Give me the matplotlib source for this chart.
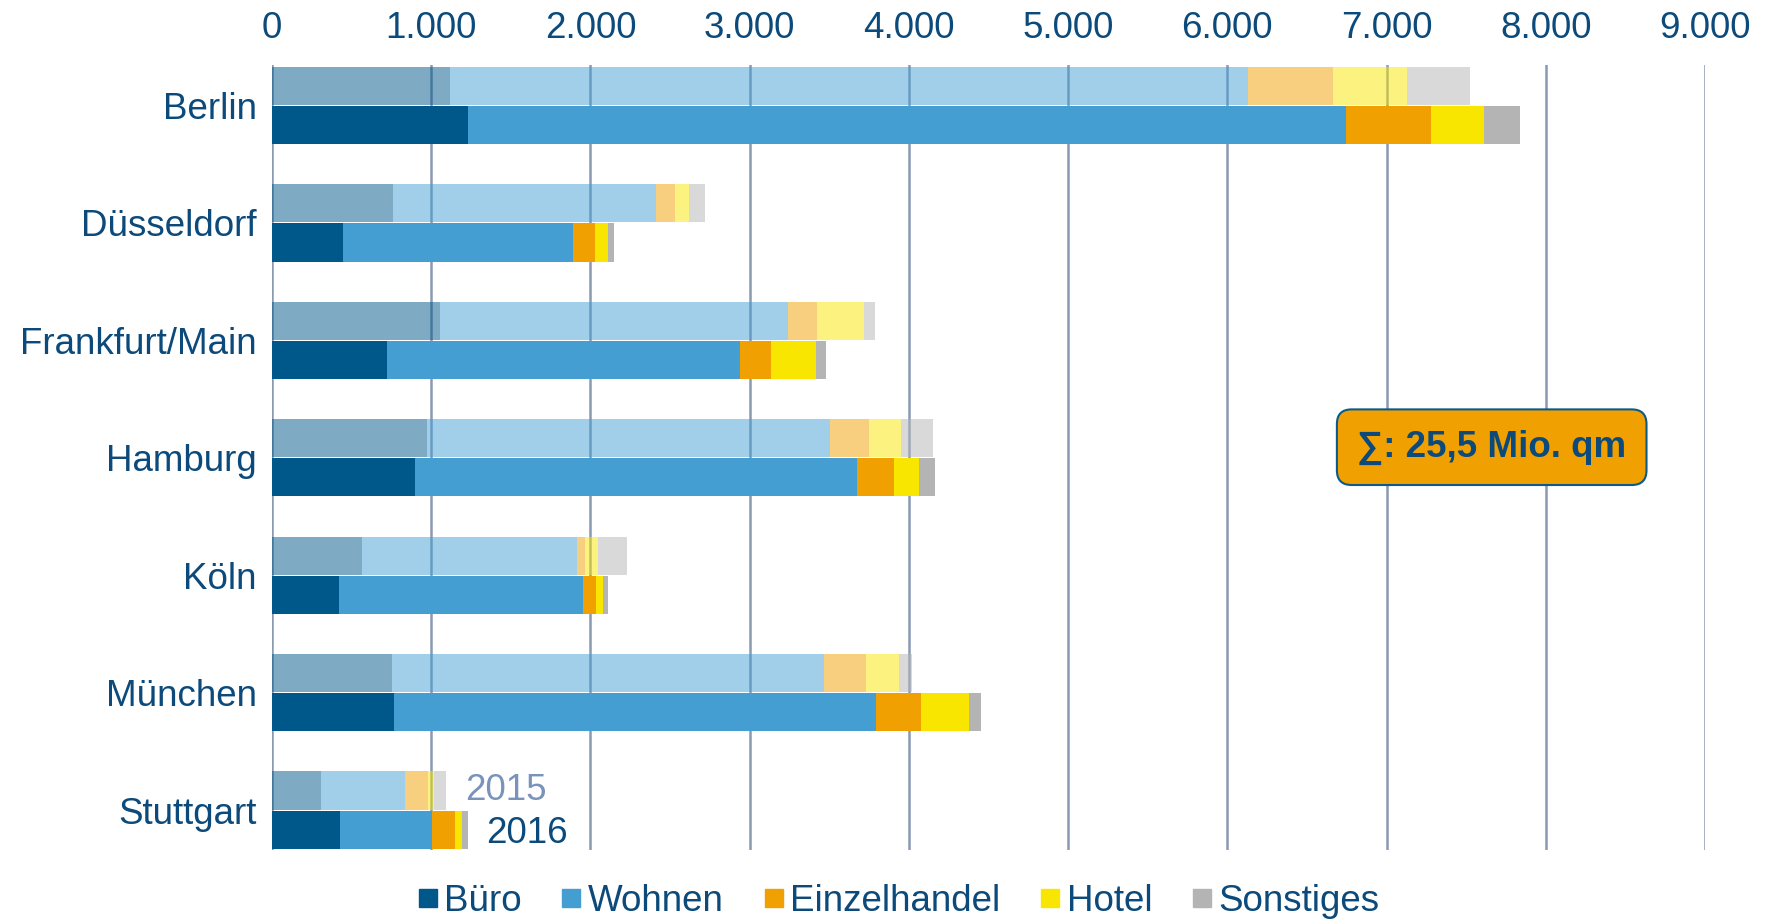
import numpy as np
import matplotlib
matplotlib.use('Agg')
import matplotlib.pyplot as plt
from matplotlib.lines import Line2D

plt.rcParams['font.family'] = ['Liberation Sans', 'DejaVu Sans']

cities = ["Berlin", "Düsseldorf", "Frankfurt/Main", "Hamburg", "Köln", "München", "Stuttgart"]
segments = ["Büro", "Wohnen", "Einzelhandel", "Hotel", "Sonstiges"]

# Tsd. qm per segment, order as in `segments`
buero_2015 = [1116, 760, 1055, 973, 565, 752, 307]
wohnen_2015 = [5011, 1650, 2188, 2530, 1353, 2716, 526]
einzel_2015 = [537, 123, 182, 247, 48, 261, 146]
hotel_2015 = [466, 84, 292, 202, 79, 208, 38]
sonst_2015 = [394, 104, 73, 202, 187, 84, 73]

buero_2016 = [1233, 446, 724, 898, 419, 767, 428]
wohnen_2016 = [5513, 1442, 2218, 2774, 1536, 3026, 574]
einzel_2016 = [532, 143, 194, 235, 80, 282, 146]
hotel_2016 = [333, 81, 281, 155, 44, 304, 44]
sonst_2016 = [225, 37, 64, 101, 33, 75, 40]

COL = ["#00578a", "#449ed2", "#f0a000", "#f8e600", "#b4b4b4"]
TXT = "#0b4a7a"
FS = 26.5

d15 = [buero_2015, wohnen_2015, einzel_2015, hotel_2015, sonst_2015]
d16 = [buero_2016, wohnen_2016, einzel_2016, hotel_2016, sonst_2016]

fig = plt.figure(figsize=(17.66, 9.22), dpi=100)
ax = fig.add_axes([0.154, 0.078, 0.8115, 0.851])

y = np.arange(len(cities))
h = 0.325
for x in range(0, 9001, 1000):
    ax.axvline(x, color="#8a9ab2", lw=1.8, zorder=0)

left15 = np.zeros(len(cities)); left16 = np.zeros(len(cities))
for k in range(5):
    v15 = np.array(d15[k]); v16 = np.array(d16[k])
    ax.barh(y - 0.167, v15, left=left15, height=h, color=COL[k], alpha=0.5, zorder=2, lw=0)
    ax.barh(y + 0.167, v16, left=left16, height=h, color=COL[k], zorder=3, lw=0)
    left15 += v15; left16 += v16

ax.set_xlim(0, 9000)
ax.set_ylim(6.34, -0.34)
ax.set_xticks(range(0, 9001, 1000))
ax.set_xticklabels(["0"] + [f"{i}.000" for i in range(1, 10)])
ax.xaxis.tick_top()
ax.set_yticks(y)
ax.set_yticklabels(cities)
ax.tick_params(axis='x', length=0, pad=14, labelsize=FS, labelcolor=TXT)
ax.tick_params(axis='y', length=0, pad=11, labelsize=FS, labelcolor=TXT)
for s in ax.spines.values():
    s.set_visible(False)

ax.text(1211, 6 - 0.17, "2015", fontsize=FS, color="#7a93bb", va='center', ha='left')
ax.text(1346, 6 + 0.2, "2016", fontsize=FS, color=TXT, va='center', ha='left')

ax.text(7660, 2.91, "∑: 25,5 Mio. qm", fontsize=FS, fontweight='bold', color=TXT,
        ha='center', va='center', zorder=6,
        bbox=dict(boxstyle="round,pad=0.55,rounding_size=0.4", fc="#f0a000", ec="#0b5a8a", lw=1.5))

handles = [Line2D([], [], marker='s', ls='none', color=c, markersize=13) for c in COL]
leg = fig.legend(handles, segments, loc='center', bbox_to_anchor=(0.508, 0.022), ncol=5,
                 frameon=False, fontsize=FS, handletextpad=0.1, columnspacing=1.0,
                 handlelength=0.7, borderpad=0)
for t in leg.get_texts():
    t.set_color(TXT)

fig.savefig('out.png', dpi=100, facecolor='white')
